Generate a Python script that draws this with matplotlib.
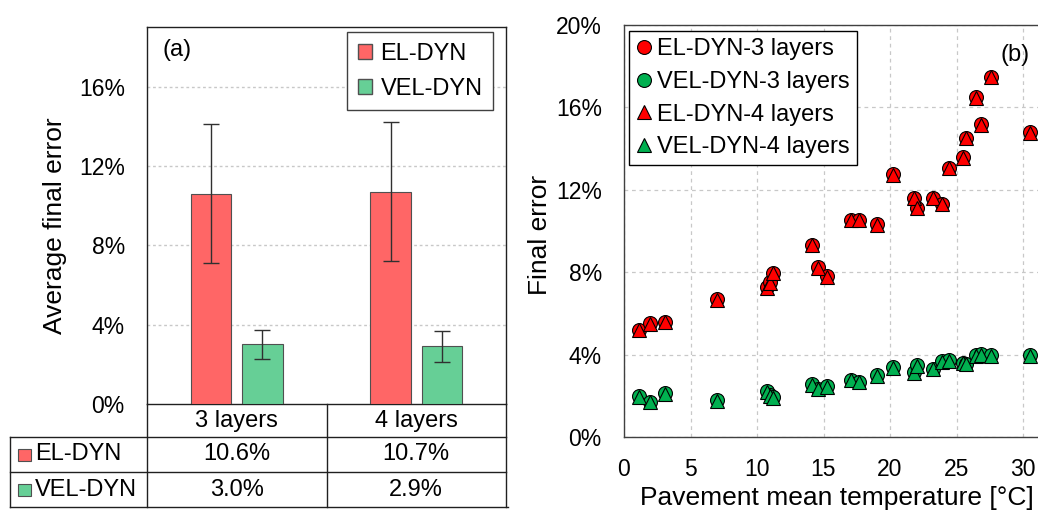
import matplotlib
matplotlib.use("Agg")
import matplotlib.pyplot as plt
from matplotlib.patches import Patch, Rectangle
from matplotlib.ticker import FuncFormatter, MultipleLocator
from matplotlib.transforms import blended_transform_factory

plt.rcParams["font.family"] = ["Liberation Sans", "DejaVu Sans"]

# ---- panel (a): average final error per model ----
categories = ["3 layers", "4 layers"]
series_names = ["EL-DYN", "VEL-DYN"]
el_dyn_mean = [10.6, 10.7]
vel_dyn_mean = [3.0, 2.9]
el_dyn_sd = [3.5, 3.5]
vel_dyn_sd = [0.75, 0.77]

# ---- panel (b): final error against pavement temperature ----
temperature = [1.1, 1.95, 3.08, 6.97, 10.75, 11.0, 11.2, 14.16, 14.58, 15.24,
               17.08, 17.65, 19.0, 20.2, 21.8, 22.06, 23.23, 23.9, 24.46, 25.5,
               25.72, 26.5, 26.87, 27.6, 30.5]
el_dyn_3 = [5.21, 5.53, 5.58, 6.69, 7.27, 7.51, 7.96, 9.33, 8.24, 7.8,
            10.54, 10.54, 10.33, 12.75, 11.62, 11.14, 11.62, 11.33, 13.07, 13.59,
            14.53, 16.5, 15.17, 17.5, 14.8]
el_dyn_4 = [5.18, 5.5, 5.56, 6.66, 7.24, 7.5, 7.94, 9.3, 8.2, 7.77,
            10.52, 10.52, 10.3, 12.72, 11.6, 11.12, 11.6, 11.3, 13.04, 13.56,
            14.5, 16.47, 15.14, 17.47, 14.77]
vel_dyn_3 = [1.98, 1.71, 2.14, 1.79, 2.24, 2.05, 1.92, 2.56, 2.35, 2.47,
             2.79, 2.68, 3.0, 3.40, 3.16, 3.48, 3.32, 3.69, 3.72, 3.61,
             3.56, 3.98, 4.01, 3.97, 3.97]
vel_dyn_4 = [1.95, 1.68, 2.11, 1.76, 2.2, 2.0, 1.89, 2.52, 2.32, 2.45,
             2.76, 2.65, 2.97, 3.37, 3.12, 3.45, 3.29, 3.66, 3.7, 3.58,
             3.53, 3.95, 3.98, 3.94, 3.94]
temp_ticks = [0, 5, 10, 15, 20, 25, 30]

bar_red = "#FF6666"
bar_green = "#66CF96"
pt_red = "#FF0000"
pt_green = "#00B050"
grid_col = "#C8C8C8"

FS_TICK = 16.5
FS_LABEL = 19
FS_LEG = 17

fig = plt.figure(figsize=(10.38, 5.13), dpi=100)

# ================= panel (a) =================
ax1 = fig.add_axes([147 / 1038, 1 - 404 / 513, 359 / 1038, 377 / 513])
x = list(range(len(categories)))
bw = 0.225
off = 0.143
ax1.bar([i - off for i in x], el_dyn_mean, width=bw, color=bar_red,
        edgecolor="#505050", linewidth=0.8, zorder=3)
ax1.bar([i + off for i in x], vel_dyn_mean, width=bw, color=bar_green,
        edgecolor="#505050", linewidth=0.8, zorder=3)
ax1.errorbar([i - off for i in x], el_dyn_mean, yerr=el_dyn_sd, fmt="none",
             ecolor="#303030", elinewidth=1, capsize=6, capthick=1, zorder=4)
ax1.errorbar([i + off for i in x], vel_dyn_mean, yerr=vel_dyn_sd, fmt="none",
             ecolor="#303030", elinewidth=1, capsize=6, capthick=1, zorder=4)

ax1.set_xlim(-0.5, 1.5)
ax1.set_ylim(0, 19)
ax1.yaxis.set_major_locator(MultipleLocator(4))
ax1.yaxis.set_major_formatter(FuncFormatter(lambda v, p: f"{v:.0f}%"))
ax1.set_xticks([])
ax1.tick_params(axis="y", length=0, pad=16, labelsize=FS_TICK)
for yv in [4, 8, 12, 16]:
    ax1.axhline(yv, color=grid_col, lw=1, ls=(0, (2, 2)), zorder=1)
for s in ax1.spines.values():
    s.set_color("#202020")
    s.set_linewidth(1)
ax1.set_ylabel("Average final error", fontsize=FS_LABEL)
ax1.yaxis.label.set_va("center")
ax1.yaxis.set_label_coords(-0.256, 0.4735)
ax1.text(0.085, 0.939, "(a)", transform=ax1.transAxes, fontsize=FS_LEG,
         ha="center", va="center")

leg1 = ax1.legend(handles=[Patch(facecolor=bar_red, edgecolor="#505050"),
                           Patch(facecolor=bar_green, edgecolor="#505050")],
                  labels=series_names, loc="upper right",
                  bbox_to_anchor=(0.964, 0.987), borderaxespad=0,
                  fontsize=FS_LEG, frameon=True, fancybox=False,
                  edgecolor="#404040", framealpha=1, handlelength=0.6,
                  handleheight=0.6, handletextpad=0.35, labelspacing=0.55,
                  borderpad=0.45)
leg1.get_frame().set_linewidth(1)

# data table under the bars
tr = blended_transform_factory(ax1.transData, ax1.transAxes)
r0, r1, r2, r3 = 0.0, -33 / 377, -68 / 377, -103 / 377
xl = -0.5 - 137 / 180
lk = dict(color="#202020", lw=1, transform=tr, clip_on=False)
ax1.plot([xl, 1.5], [r1, r1], **lk)
ax1.plot([xl, 1.5], [r2, r2], **lk)
ax1.plot([xl, 1.51], [r3, r3], **lk)
ax1.plot([xl, xl], [r1, r3], **lk)
for xv in [-0.5, 0.5, 1.5]:
    ax1.plot([xv, xv], [r0, r3], **lk)
for i, cat in enumerate(categories):
    ax1.text(i, (r0 + r1) / 2, cat, transform=tr, ha="center", va="center",
             fontsize=FS_LEG, clip_on=False)
    ax1.text(i, (r1 + r2) / 2, f"{el_dyn_mean[i]:.1f}%", transform=tr,
             ha="center", va="center", fontsize=FS_LEG)
    ax1.text(i, (r2 + r3) / 2, f"{vel_dyn_mean[i]:.1f}%", transform=tr,
             ha="center", va="center", fontsize=FS_LEG)
for (ya, yb), col, name in [((r1, r2), bar_red, series_names[0]),
                            ((r2, r3), bar_green, series_names[1])]:
    yc = (ya + yb) / 2
    ax1.add_patch(Rectangle((-0.5 + (18 - 147) / 180, yc - 6 / 377),
                            13 / 180, 12 / 377, facecolor=col,
                            edgecolor="#505050", lw=0.8, transform=tr,
                            clip_on=False))
    ax1.text(-0.5 + (35 - 147) / 180, yc, name, transform=tr, ha="left",
             va="center", fontsize=FS_LEG)

# ================= panel (b) =================
ax2 = fig.add_axes([624 / 1038, 1 - 437 / 513, 465.5 / 1038, 412 / 513])
ms = 10
mew = 0.8
ax2.plot(temperature, el_dyn_3, ls="none", marker="o", ms=ms, mfc=pt_red,
         mec="black", mew=mew, label="EL-DYN-3 layers", zorder=3)
ax2.plot(temperature, vel_dyn_3, ls="none", marker="o", ms=ms, mfc=pt_green,
         mec="black", mew=mew, label="VEL-DYN-3 layers", zorder=3)
ax2.plot(temperature, el_dyn_4, ls="none", marker="^", ms=ms, mfc=pt_red,
         mec="black", mew=mew, label="EL-DYN-4 layers", zorder=4)
ax2.plot(temperature, vel_dyn_4, ls="none", marker="^", ms=ms, mfc=pt_green,
         mec="black", mew=mew, label="VEL-DYN-4 layers", zorder=4)

ax2.set_xlim(0, 35)
ax2.set_ylim(0, 20)
ax2.set_xticks(temp_ticks)
ax2.yaxis.set_major_locator(MultipleLocator(4))
ax2.yaxis.set_major_formatter(FuncFormatter(lambda v, p: f"{v:.0f}%"))
ax2.tick_params(axis="both", length=0, labelsize=FS_TICK)
ax2.tick_params(axis="y", pad=16)
ax2.tick_params(axis="x", pad=15)
ax2.grid(True, color=grid_col, lw=0.9, ls=(0, (3, 3)), zorder=0)
ax2.set_axisbelow(True)
for s in ax2.spines.values():
    s.set_color("#404040")
    s.set_linewidth(1)
ax2.set_ylabel("Final error", fontsize=FS_LABEL)
ax2.yaxis.label.set_va("center")
ax2.yaxis.set_label_coords(-0.1805, 0.49)
ax2.set_xlabel("Pavement mean temperature [°C]", fontsize=FS_LABEL)
ax2.xaxis.label.set_va("center")
ax2.xaxis.set_label_coords(0.4565, -0.148)
ax2.text(0.84, 0.928, "(b)", transform=ax2.transAxes, fontsize=FS_LEG,
         ha="center", va="center")

leg2 = ax2.legend(loc="upper left", bbox_to_anchor=(0.0107, 0.985),
                  borderaxespad=0, fontsize=FS_LEG, frameon=True,
                  fancybox=False, edgecolor="black", framealpha=1,
                  handlelength=0.7, handletextpad=0.2, labelspacing=0.45,
                  borderpad=0.3, numpoints=1)
leg2.get_frame().set_linewidth(1)

fig.savefig("out.png", dpi=100)
